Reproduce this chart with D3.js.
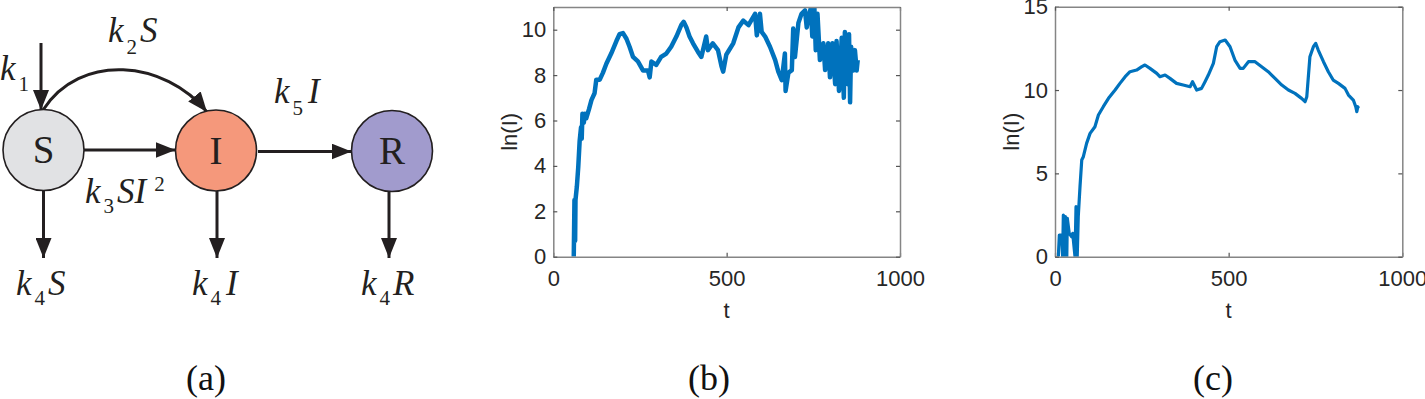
<!DOCTYPE html>
<html>
<head>
<meta charset="utf-8">
<script src="https://cdn.jsdelivr.net/npm/d3@7"></script>
<style>
  body { margin:0; background:#fff; }
  svg { display:block; }
  .tick text { font-family:"Liberation Sans", Arial, sans-serif; font-size:22px; fill:#262626; }
</style>
</head>
<body>
<div id="canvas"></div>
<script>
// ---- data ----
// panel (b): [t, ln(I)]
var seriesB = [[59,0],[61,2.5],[63,0.7],[64,2.5],[68,3.1],[72,3.96],[76,5.1],[80,5.7],[82,5.2],[84,6.3],[88,5.9],[91,6.3],[95,6.1],
  [103,6.5],[110,6.9],[119,7.2],[124,7.8],[134,7.8],[143,8.1],[153,8.5],[167,8.95],[182,9.5],[191,9.8],[201,9.85],[211,9.6],
  [220,9.25],[230,8.8],[244,8.6],[259,8.2],[273,8.2],[278,7.9],[283,8.6],[297,8.45],[311,8.8],[326,8.95],[340,9.25],[355,9.7],
  [369,10.2],[376,10.35],[384,10.1],[393,9.7],[403,9.4],[417,9.03],[427,8.8],[441,9.7],[446,9.1],[460,9.4],[475,9.1],[485,8.4],
  [490,8.15],[499,8.9],[505,9.05],[519,9.4],[534,10.1],[548,10.4],[563,10.2],[582,10.7],[587,9.75],[596,10.7],[601,9.9],[611,9.7],
  [625,9.25],[640,8.66],[649,8.15],[659,7.78],[668,8.95],[670,7.3],[678,8.1],[688,8.22],[692,10.05],[697,8.8],[707,10.3],[716,10.7],
  [726,10.85],[731,10.1],[736,10.6],[743,10.95],[747,9.7],[753,11],[757,9.1],[762,10.7],[769,8.66],[779,9.4],[784,8.22],[793,9.4],
  [798,7.9],[805,9.4],[813,7.6],[817,9.5],[824,7.3],[832,9.65],[838,7.0],[841,9.9],[849,7.6],[853,9.8],[856,6.8],[859,9.25],
  [865,8.2],[870,9.1],[875,8.2],[878,8.66]];

// panel (c): [t, ln(I)]
var seriesC = [[9.6,0],[12.5,1.3],[19,1.3],[22,0],[24,2.5],[27,0],[30,2.4],[34,0],[35.5,2.3],[41,1.4],[48,1.2],[51,1.4],[57.6,0],
  [60.5,3.0],[64,0],[67,2.4],[72,4.2],[77,5.8],[81.6,6.0],[91,6.8],[101,7.4],[115,7.8],[125,8.5],[139,9.0],[154,9.5],[173,10.0],
  [187,10.4],[202,10.8],[216,11.1],[235,11.2],[250,11.4],[259,11.5],[273.5,11.3],[293,11.0],[302,10.8],[317,10.9],[331,10.7],
  [350,10.4],[369,10.3],[389,10.2],[396,10.5],[408,10.0],[422,10.1],[432,10.5],[441.5,10.9],[456,11.6],[465.5,12.6],[475,12.9],
  [490,13.0],[504,12.6],[518,11.8],[533,11.3],[542,11.3],[557,11.7],[576,11.7],[595,11.4],[614,11.1],[633.5,10.7],[653,10.3],
  [672,10.0],[691,9.8],[710,9.5],[720,9.3],[725,9.6],[734,12.0],[744,12.6],[750.6,12.8],[758,12.4],[773,11.7],[787,11.1],
  [801,10.6],[816,10.4],[835,10.1],[845,9.7],[859,9.4],[866,9.0],[869,8.7],[872,9.0],[873,8.9]];

var xTicks = [0, 500, 1000];
var yTicksB = [0, 2, 4, 6, 8, 10];
var yTicksC = [0, 5, 10, 15];
var panelLabels = ['(a)', '(b)', '(c)'];

// diagram nodes
var nodes = [
  {name:'S', x:43.5, y:150, fill:'#e1e2e4'},
  {name:'I', x:216, y:150.5, fill:'#f5987b'},
  {name:'R', x:392, y:151, fill:'#a19bcd'}
];

var W = 1425, H = 399;
var svg = d3.select('#canvas').append('svg').attr('width', W).attr('height', H);

var ink = '#231f20';
var defs = svg.append('defs');
defs.append('marker')
  .attr('id','head')
  .attr('viewBox','0 0 20 16')
  .attr('refX',20).attr('refY',8)
  .attr('markerUnits','userSpaceOnUse')
  .attr('markerWidth',20).attr('markerHeight',16)
  .attr('orient','auto')
  .append('path').attr('d','M0,0 L20,8 L0,16 Z').attr('fill',ink);

// ---------- panel (a): the S-I-R diagram ----------
var dia = svg.append('g');

function arrow(d){
  dia.append('path').attr('d', d)
    .attr('fill','none').attr('stroke',ink).attr('stroke-width',3)
    .attr('marker-end','url(#head)');
}
arrow('M41,43 L41,110');
arrow('M43,110 C80,52 165,60 207,112');
arrow('M84,150 L175.5,150');
arrow('M258,151.5 L351.5,151.5');
arrow('M43.5,190 L43.5,258');
arrow('M217,190 L217,258');
arrow('M389,191 L389,258');

dia.selectAll('circle.node').data(nodes).enter().append('circle')
  .attr('class','node')
  .attr('cx', function(d){ return d.x; })
  .attr('cy', function(d){ return d.y; })
  .attr('r', 40.5)
  .attr('fill', function(d){ return d.fill; })
  .attr('stroke', ink).attr('stroke-width', 1.6);

dia.selectAll('text.node').data(nodes).enter().append('text')
  .attr('class','node')
  .attr('x', function(d){ return d.x; })
  .attr('y', function(d){ return d.y + 13; })
  .attr('text-anchor','middle')
  .style('font-family','"Liberation Serif", "Times New Roman", serif')
  .style('font-size','39px')
  .style('fill', ink)
  .text(function(d){ return d.name; });

// italic rate labels built from pieces: [text, dx, dy, size, upright]
function rate(x, y, parts){
  var t = dia.append('text').attr('x', x).attr('y', y)
    .style('font-family','"Liberation Serif", "Times New Roman", serif')
    .style('font-style','italic').style('fill', ink);
  parts.forEach(function(p){
    t.append('tspan').attr('dx', p[1]).attr('dy', p[2])
      .style('font-size', p[3] + 'px')
      .style('font-style', p[4] ? 'normal' : 'italic')
      .text(p[0]);
  });
}
rate(0, 80, [['k',0,0,35],['1',3,11,21,1]]);
rate(108, 42, [['k',0,0,35],['2',3,12,21,1],['S',3,-12,35]]);
rate(274, 103, [['k',0,0,35],['5',3,12,21,1],['I',5,-12,35]]);
rate(85, 203, [['k',0,0,35],['3',3,10,21,1],['SI',3,-10,35],['2',8,-12,21,1]]);
rate(16, 295, [['k',0,0,35],['4',3,10,21,1],['S',3,-10,35]]);
rate(192, 295, [['k',0,0,35],['4',3,10,21,1],['I',5,-10,35]]);
rate(361, 295, [['k',0,0,35],['4',3,10,21,1],['R',3,-10,35]]);

// ---------- panels (b), (c): line plots ----------
function linePlot(box, data, yMax, yTicks, lineW, id){
  var w = box.r - box.l, h = box.b - box.t;
  var g = svg.append('g').attr('transform','translate(' + box.l + ',' + box.t + ')');

  var scaleX = d3.scaleLinear().domain([0,1000]).range([0,w]);
  var scaleY = d3.scaleLinear().domain([0,yMax]).range([h,0]);

  g.append('clipPath').attr('id', id)
    .append('rect').attr('width', w).attr('height', h);

  var line = d3.line()
    .x(function(d){ return scaleX(d[0]); })
    .y(function(d){ return scaleY(d[1]); });

  g.append('path').datum(data)
    .attr('clip-path','url(#' + id + ')')
    .attr('d', line)
    .attr('fill','none')
    .attr('stroke','#0072bd')
    .attr('stroke-width', lineW)
    .attr('stroke-linejoin','round');

  // MATLAB-like box with inward ticks on all sides
  var axB = d3.axisBottom(scaleX).tickValues(xTicks).tickSizeInner(-4).tickSizeOuter(0).tickPadding(14).tickFormat(d3.format('d'));
  var axL = d3.axisLeft(scaleY).tickValues(yTicks).tickSizeInner(-4).tickSizeOuter(0).tickPadding(7);
  var axT = d3.axisTop(scaleX).tickValues(xTicks).tickSizeInner(-4).tickSizeOuter(0).tickFormat('');
  var axR = d3.axisRight(scaleY).tickValues(yTicks).tickSizeInner(-4).tickSizeOuter(0).tickFormat('');

  g.append('g').attr('transform','translate(0,' + h + ')').call(axB);
  g.append('g').call(axL);
  g.append('g').call(axT);
  g.append('g').attr('transform','translate(' + w + ',0)').call(axR);

  g.selectAll('.domain').attr('stroke','#858585').attr('stroke-width',1.5);
  g.selectAll('.tick line').attr('stroke','#555').attr('stroke-width',1.2);

  g.append('text')
    .attr('x', w/2).attr('y', h + 61)
    .attr('text-anchor','middle')
    .style('font-family','"Liberation Sans", Arial, sans-serif')
    .style('font-size','22px').style('fill','#262626')
    .text('t');

  g.append('text')
    .attr('transform','translate(' + (-36) + ',' + (h/2) + ') rotate(-90)')
    .attr('text-anchor','middle')
    .style('font-family','"Liberation Sans", Arial, sans-serif')
    .style('font-size','22px').style('fill','#262626')
    .text('ln(I)');
}

linePlot({l:553.3, r:900, t:7, b:256.7}, seriesB, 11, yTicksB, 4.5, 'clipB');
linePlot({l:1055, r:1402.3, t:6.7, b:256.7}, seriesC, 15, yTicksC, 3.2, 'clipC');

// panel captions
svg.selectAll('text.cap').data(panelLabels).enter().append('text')
  .attr('class','cap')
  .attr('x', function(d,i){ return [206, 709, 1213][i]; })
  .attr('y', 390)
  .attr('text-anchor','middle')
  .style('font-family','"Liberation Serif", "Times New Roman", serif')
  .style('font-size','36px')
  .style('fill','#111')
  .text(function(d){ return d; });
</script>
</body>
</html>
